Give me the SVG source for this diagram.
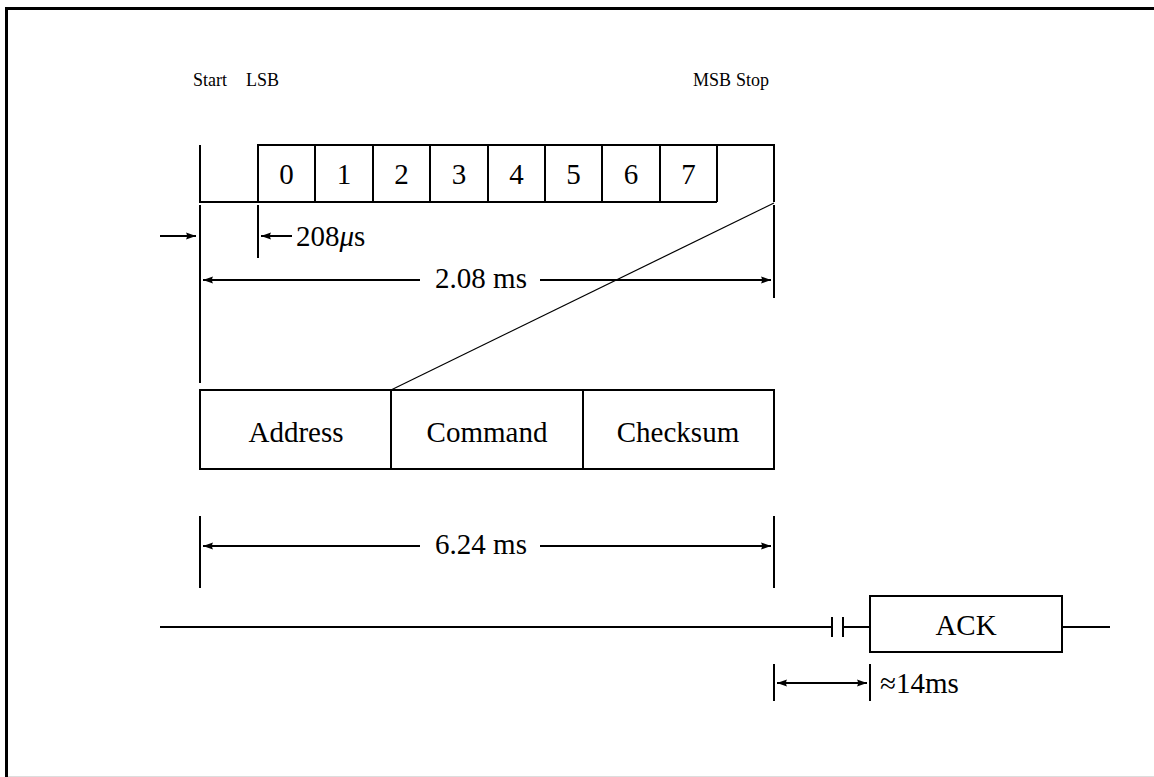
<svg xmlns="http://www.w3.org/2000/svg" width="1154" height="777" viewBox="0 0 1154 777">
<defs>
<style>
.ln{stroke:#000;stroke-width:2;fill:none}
.thin{stroke:#000;stroke-width:1.2;fill:none}
.box{stroke:#000;stroke-width:2;fill:#fff}
.t{font-family:"Liberation Serif","Times New Roman","DejaVu Serif",serif;font-size:29px;fill:#000}
.s{font-family:"Liberation Serif","Times New Roman","DejaVu Serif",serif;font-size:18px;fill:#000}
.c{text-anchor:middle;dominant-baseline:central}
.e{text-anchor:end}
</style>
<marker id="ah" viewBox="0 0 10 10" refX="10" refY="5" markerWidth="10" markerHeight="10" markerUnits="userSpaceOnUse" orient="auto-start-reverse">
<path d="M0,1.5 L10,5 L0,8.5 Q2,5 0,1.5 Z" fill="#000"/>
</marker>
</defs>
<rect width="1154" height="777" fill="#fff"/>
<g id="frame">
<line x1="6.5" y1="8.5" x2="1154" y2="8.5" stroke="#000" stroke-width="3"/>
<line x1="6.5" y1="7" x2="6.5" y2="777" stroke="#000" stroke-width="3"/>
<line x1="8" y1="776.5" x2="1154" y2="776.5" stroke="#ddd" stroke-width="1"/>
</g>
<g id="labels-top">
<text class="s" x="193" y="86">Start</text>
<text class="s e" x="279" y="86">LSB</text>
<text class="s" x="693" y="86">MSB</text>
<text class="s e" x="769" y="86">Stop</text>
</g>
<g id="waveform">
<polyline class="ln" points="200,145 200,202 258,202 258,145 774,145 774,202"/>
<line class="ln" x1="258" y1="202" x2="717" y2="202"/>
<line class="ln" x1="315" y1="145" x2="315" y2="202"/>
<line class="ln" x1="373" y1="145" x2="373" y2="202"/>
<line class="ln" x1="430" y1="145" x2="430" y2="202"/>
<line class="ln" x1="488" y1="145" x2="488" y2="202"/>
<line class="ln" x1="545" y1="145" x2="545" y2="202"/>
<line class="ln" x1="602" y1="145" x2="602" y2="202"/>
<line class="ln" x1="660" y1="145" x2="660" y2="202"/>
<line class="ln" x1="717" y1="145" x2="717" y2="202"/>
<text class="t c" x="286.5" y="174">0</text>
<text class="t c" x="344" y="174">1</text>
<text class="t c" x="401.5" y="174">2</text>
<text class="t c" x="459" y="174">3</text>
<text class="t c" x="516.5" y="174">4</text>
<text class="t c" x="573.5" y="174">5</text>
<text class="t c" x="631" y="174">6</text>
<text class="t c" x="688.5" y="174">7</text>
</g>
<g id="frame-boxes">
<rect class="box" x="200" y="390" width="574" height="79"/>
<line class="ln" x1="391" y1="390" x2="391" y2="469"/>
<line class="ln" x1="583" y1="390" x2="583" y2="469"/>
<text class="t c" x="296" y="432">Address</text>
<text class="t c" x="487" y="432">Command</text>
<text class="t c" x="678" y="432">Checksum</text>
</g>
<g id="ack">
<rect class="box" x="870" y="596" width="192" height="56"/>
<text class="t c" x="966" y="625">ACK</text>
</g>
<g id="connectors">
<line class="thin" x1="774" y1="203" x2="391" y2="390"/>
<line class="ln" x1="200" y1="205" x2="200" y2="383"/>
<line class="ln" x1="258" y1="205" x2="258" y2="258"/>
<line class="ln" x1="774" y1="205" x2="774" y2="298"/>
<line class="ln" x1="160" y1="236" x2="196" y2="236" marker-end="url(#ah)"/>
<line class="ln" x1="292" y1="236" x2="261" y2="236" marker-end="url(#ah)"/>
<text class="t" x="296" y="246">208<tspan font-style="italic">μ</tspan>s</text>
<line class="ln" x1="420" y1="280" x2="203" y2="280" marker-end="url(#ah)"/>
<line class="ln" x1="540" y1="280" x2="771" y2="280" marker-end="url(#ah)"/>
<text class="t c" x="481" y="278">2.08 ms</text>
<line class="ln" x1="200" y1="516" x2="200" y2="588"/>
<line class="ln" x1="774" y1="516" x2="774" y2="588"/>
<line class="ln" x1="420" y1="546" x2="203" y2="546" marker-end="url(#ah)"/>
<line class="ln" x1="540" y1="546" x2="771" y2="546" marker-end="url(#ah)"/>
<text class="t c" x="481" y="544">6.24 ms</text>
<line class="ln" x1="160" y1="627" x2="832" y2="627"/>
<line class="ln" x1="832" y1="617" x2="832" y2="637"/>
<line class="ln" x1="843" y1="617" x2="843" y2="637"/>
<line class="ln" x1="843" y1="627" x2="870" y2="627"/>
<line class="ln" x1="1062" y1="627" x2="1110" y2="627"/>
<line class="ln" x1="774" y1="664" x2="774" y2="701"/>
<line class="ln" x1="870" y1="664" x2="870" y2="701"/>
<line class="ln" x1="777" y1="683" x2="867" y2="683" marker-start="url(#ah)" marker-end="url(#ah)"/>
<text class="t" x="880" y="693">≈14ms</text>
</g>
</svg>
